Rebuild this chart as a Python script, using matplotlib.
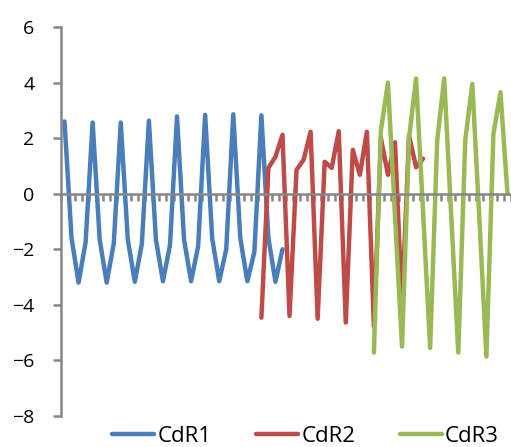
import numpy as np
import matplotlib
matplotlib.use("Agg")
import matplotlib.pyplot as plt

plt.rcParams['font.family'] = ['Open Sans', 'DejaVu Sans']

n_cat = 64
categories = list(range(n_cat))

cdr1_start = 0
cdr1 = [2.6, -1.6, -3.2, -1.75,
        2.56, -1.65, -3.2, -1.8,
        2.56, -1.65, -3.17, -1.8,
        2.63, -1.65, -3.15, -1.85,
        2.78, -1.65, -3.15, -1.9,
        2.84, -1.6, -3.15, -2.0,
        2.86, -1.6, -3.15, -2.1,
        2.82, -1.6, -3.17, -2.0]

cdr2_start = 28
cdr2 = [-4.46, 0.93, 1.33, 2.12,
        -4.4, 0.86, 1.22, 2.23,
        -4.5, 1.15, 0.93, 2.25,
        -4.64, 1.58, 0.68, 2.23,
        -4.78, 2.0, 0.68, 1.85,
        -4.0, 2.1, 0.95, 1.26]

cdr3_start = 44
cdr3 = [-5.72, 2.3, 4.0, -0.8,
        -5.5, 2.0, 4.15, -0.7,
        -5.55, 1.9, 4.15, -0.8,
        -5.72, 1.95, 3.95, -0.9,
        -5.86, 2.15, 3.65, 0.0]

series_names = ['CdR1', 'CdR2', 'CdR3']
colors = ['#4A7EBB', '#BE4B48', '#98B954']
yticks = [6, 4, 2, 0, -2, -4, -6, -8]


def full(start, vals):
    arr = np.full(n_cat, np.nan)
    arr[start:start + len(vals)] = vals
    return arr


fig = plt.figure(figsize=(5.11, 4.47), dpi=100)
ax = fig.add_axes([61 / 511, 1 - 416 / 447, 1 - 61 / 511, (416 - 27) / 447])

x = np.array(categories)
for name, start, vals, c in zip(series_names, [cdr1_start, cdr2_start, cdr3_start],
                                [cdr1, cdr2, cdr3], colors):
    ax.plot(x, full(start, vals), color=c, lw=3.2, label=name,
            solid_capstyle='round', solid_joinstyle='round')

ax.set_xlim(-0.5, n_cat - 0.5)
ax.set_ylim(-8, 6)

axis_gray = '#868686'
for s in ['top', 'right']:
    ax.spines[s].set_visible(False)
ax.spines['left'].set_color(axis_gray)
ax.spines['left'].set_linewidth(1.8)
ax.spines['bottom'].set_position(('data', 0))
ax.spines['bottom'].set_color(axis_gray)
ax.spines['bottom'].set_linewidth(1.8)

ax.set_yticks(yticks)
ax.tick_params(axis='y', direction='out', length=6, width=1.8, color=axis_gray,
               labelsize=14, pad=13, labelcolor='black')
ax.set_xticks(np.arange(-0.5, n_cat, 1.0))
ax.set_xticklabels([])
ax.tick_params(axis='x', direction='out', length=5, width=1.8, color=axis_gray)

fig.legend(loc='center', bbox_to_anchor=(0.598, 0.024), ncol=3, frameon=False,
           fontsize=16, handlelength=1.9, handletextpad=0.14, columnspacing=2.0,
           borderaxespad=0, borderpad=0)

fig.savefig('out.png', dpi=100)
